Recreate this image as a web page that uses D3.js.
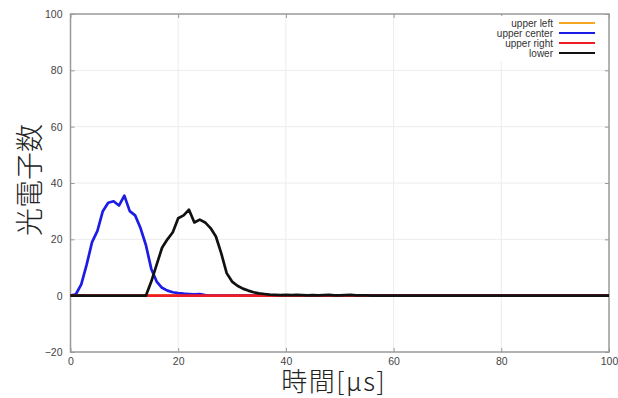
<!DOCTYPE html>
<html>
<head>
<meta charset="utf-8">
<script src="https://cdn.jsdelivr.net/npm/d3@7"></script>
<style>
  html, body { margin: 0; padding: 0; background: #fff; }
  svg { display: block; }
</style>
</head>
<body>
<svg id="chart" width="618" height="398"></svg>
<script>
// Time axis (µs), one sample per microsecond
const times = d3.range(0, 101);

// Photoelectron counts per detector, indexed by time
const upperLeft = new Array(101).fill(0);

const upperCenterHead = [0, 0.5, 4, 11, 19, 23, 30, 33, 33.5, 32, 35.5, 30, 28.5, 24, 18, 9.5, 5, 2.8, 1.8, 1.2, 0.9, 0.7, 0.6, 0.5, 0.6, 0.2];
const upperCenter = upperCenterHead.concat(new Array(101 - upperCenterHead.length).fill(0));

const upperRight = new Array(101).fill(0);

const lowerHead = [0, 0, 0, 0, 0, 0, 0, 0, 0, 0, 0, 0, 0, 0, 0, 5, 11, 17, 20, 22.5, 27.5, 28.5, 30.5, 26, 27, 26, 24, 21, 15, 8, 5, 3.5, 2.5, 1.8, 1.2, 0.8, 0.6, 0.4, 0.3, 0.2, 0.3, 0.2, 0.3, 0.2, 0.1, 0.2, 0.1, 0.2, 0.3, 0.1, 0.1, 0.2, 0.3, 0.1, 0.1, 0.1];
const lower = lowerHead.concat(new Array(101 - lowerHead.length).fill(0));

const seriesNames = ["upper left", "upper center", "upper right", "lower"];
const seriesValues = [upperLeft, upperCenter, upperRight, lower];
const seriesColors = ["#f5a623", "#1c1ce6", "#ee1c24", "#111111"];

const xTicks = [0, 20, 40, 60, 80, 100];
const yTicks = [-20, 0, 20, 40, 60, 80, 100];

const svg = d3.select("#chart");
const plotLeft = 70.5, plotRight = 609, plotTop = 14, plotBottom = 352;

const x = d3.scaleLinear().domain([0, 100]).range([plotLeft, plotRight]);
const y = d3.scaleLinear().domain([-20, 100]).range([plotBottom, plotTop]);

// Light grid lines
const grid = svg.append("g");
grid.selectAll(".gx").data(xTicks.slice(1, -1)).join("line")
  .attr("x1", d => x(d)).attr("x2", d => x(d))
  .attr("y1", plotTop).attr("y2", plotBottom)
  .attr("stroke", "#ececec").attr("stroke-width", 1);
grid.selectAll(".gy").data(yTicks.slice(1, -1)).join("line")
  .attr("x1", plotLeft).attr("x2", plotRight)
  .attr("y1", d => y(d)).attr("y2", d => y(d))
  .attr("stroke", "#ececec").attr("stroke-width", 1);

// Axes with inward ticks on all four sides
const tickColor = "#999";
const axB = svg.append("g").attr("transform", `translate(0,${plotBottom})`)
  .call(d3.axisBottom(x).tickValues(xTicks).tickSizeInner(-4).tickSizeOuter(0).tickPadding(5.5));
const axT = svg.append("g").attr("transform", `translate(0,${plotTop})`)
  .call(d3.axisTop(x).tickValues(xTicks).tickSizeInner(-4).tickSizeOuter(0).tickFormat(""));
const axL = svg.append("g").attr("transform", `translate(${plotLeft},0)`)
  .call(d3.axisLeft(y).tickValues(yTicks).tickSizeInner(-4).tickSizeOuter(0).tickPadding(8));
const axR = svg.append("g").attr("transform", `translate(${plotRight},0)`)
  .call(d3.axisRight(y).tickValues(yTicks).tickSizeInner(-4).tickSizeOuter(0).tickFormat(""));

[axB, axT, axL, axR].forEach(g => {
  g.select(".domain").remove();
  g.selectAll(".tick line").attr("stroke", tickColor).attr("stroke-width", 1);
  g.selectAll(".tick text")
    .attr("font-family", "'Liberation Sans', Arial, sans-serif")
    .attr("font-size", 10.5).attr("fill", "#444");
});

// Frame
svg.append("rect")
  .attr("x", plotLeft).attr("y", plotTop)
  .attr("width", plotRight - plotLeft).attr("height", plotBottom - plotTop)
  .attr("fill", "none").attr("stroke", "#999").attr("stroke-width", 1.5);

// Legend panel (white background with entries)
const legend = svg.append("g");
legend.append("rect")
  .attr("x", 470).attr("y", 16).attr("width", 136).attr("height", 45)
  .attr("fill", "#fff");

// Series lines
const line = d3.line().x((d, i) => x(times[i])).y(d => y(d));
svg.append("g").selectAll("path").data(seriesValues).join("path")
  .attr("d", d => line(d))
  .attr("fill", "none")
  .attr("stroke", (d, i) => seriesColors[i])
  .attr("stroke-width", 2.7)
  .attr("stroke-linejoin", "round");

const rowY = d3.scalePoint().domain(seriesNames).range([23, 53]);
const entries = legend.selectAll(".entry").data(seriesNames).join("g")
  .attr("transform", d => `translate(0,${rowY(d)})`);
entries.append("text")
  .attr("x", 553).attr("dy", "0.35em")
  .attr("text-anchor", "end")
  .attr("font-family", "'Liberation Sans', Arial, sans-serif")
  .attr("font-size", 10).attr("fill", "#333")
  .text(d => d);
entries.append("line")
  .attr("x1", 559).attr("x2", 595)
  .attr("stroke", (d, i) => seriesColors[i]).attr("stroke-width", 2.2);

// Axis titles
svg.append("text")
  .attr("transform", `translate(40,${(plotTop + plotBottom) / 2 - 3}) rotate(-90)`)
  .attr("text-anchor", "middle")
  .attr("font-family", "'Noto Sans CJK JP', sans-serif")
  .attr("font-weight", 300)
  .attr("font-size", 28).attr("fill", "#222")
  .text("光電子数");

svg.append("text")
  .attr("x", (plotLeft + plotRight) / 2 - 6).attr("y", 391)
  .attr("text-anchor", "middle")
  .attr("font-family", "'Noto Sans CJK JP', sans-serif")
  .attr("font-weight", 300)
  .attr("letter-spacing", 1.5)
  .attr("font-size", 26).attr("fill", "#222")
  .text("時間[μs]");
</script>
</body>
</html>
